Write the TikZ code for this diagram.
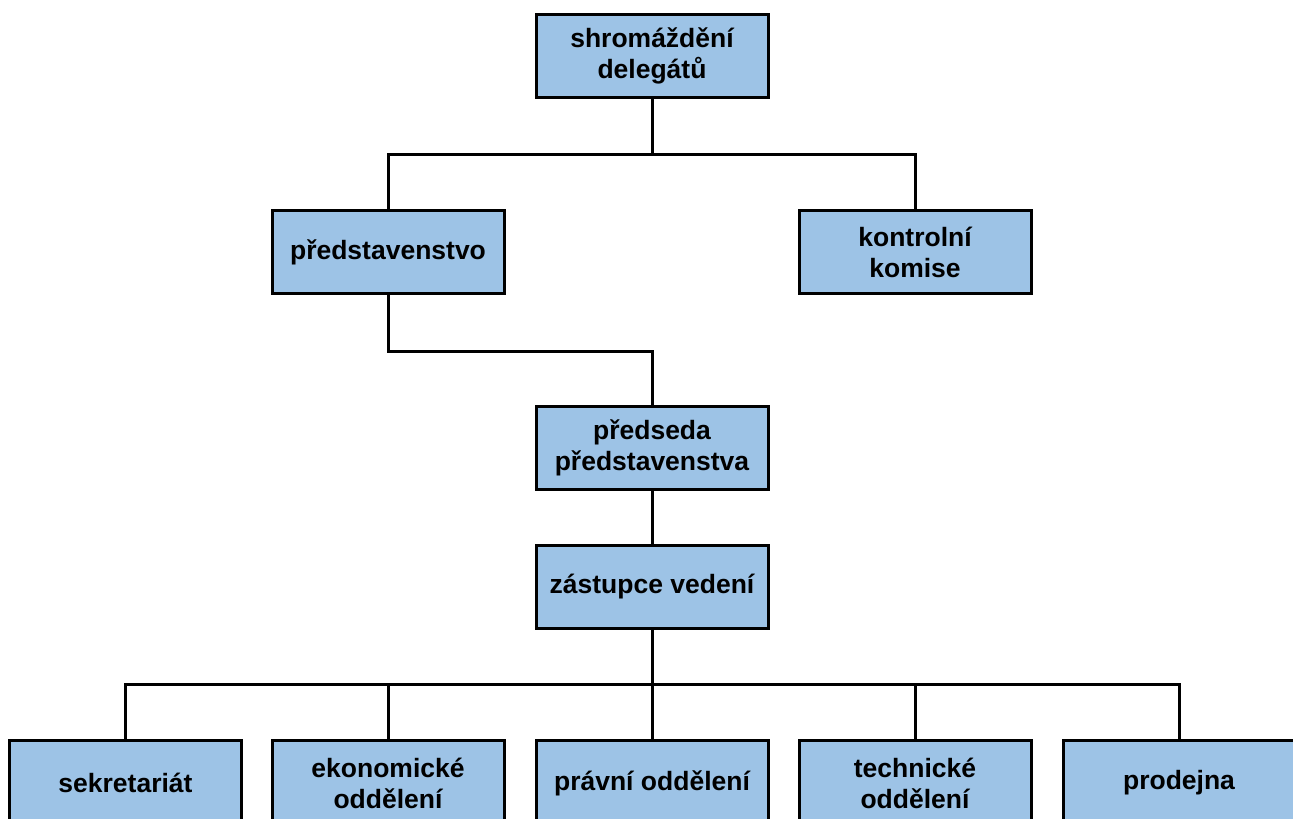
\documentclass[tikz,border=0pt]{standalone}
\usepackage{fontspec}
\setmainfont{Liberation Sans}
\definecolor{boxblue}{RGB}{157,195,230}
\begin{document}
\begin{tikzpicture}[x=1pt,y=-1pt,
  orgbox/.style={draw=black, fill=boxblue, line width=3pt, minimum width=232pt,
    minimum height=83pt, inner sep=0pt, align=center,
    font=\fontsize{26.5}{31}\selectfont\bfseries},
  link/.style={line width=3pt}]
\clip (0,0) rectangle (1293,819);
\node[orgbox] (top) at (652,56) {shromáždění\\delegátů};
\node[orgbox] (rep) at (388,252) {představenstvo};
\node[orgbox] (kk) at (915,252) {kontrolní\\komise};
\node[orgbox] (pred) at (652,448) {předseda\\představenstva};
\node[orgbox] (zast) at (652,587) {zástupce vedení};
\node[orgbox, minimum height=86pt] (b1) at (125.5,783) {sekretariát};
\node[orgbox, minimum height=86pt] (b2) at (388,783) {ekonomické\\oddělení};
\node[orgbox, minimum height=86pt] (b3) at (652,783) {právní oddělení};
\node[orgbox, minimum height=86pt] (b4) at (915,783) {technické\\oddělení};
\node[orgbox, minimum height=86pt] (b5) at (1179,783) {prodejna};
\coordinate (bus1) at (652,154);
\coordinate (bus3) at (652,684);
\draw[link] (top.south) -- (bus1);
\draw[link] (bus1) -| (rep.north);
\draw[link] (bus1) -| (kk.north);
\draw[link] (rep.south) -- ++(0,56) -| (pred.north);
\draw[link] (pred.south) -- (zast.north);
\draw[link] (zast.south) -- (bus3);
\foreach \b in {b1,b2,b3,b4,b5} {\draw[link] (bus3) -| (\b.north);}
\end{tikzpicture}
\end{document}
